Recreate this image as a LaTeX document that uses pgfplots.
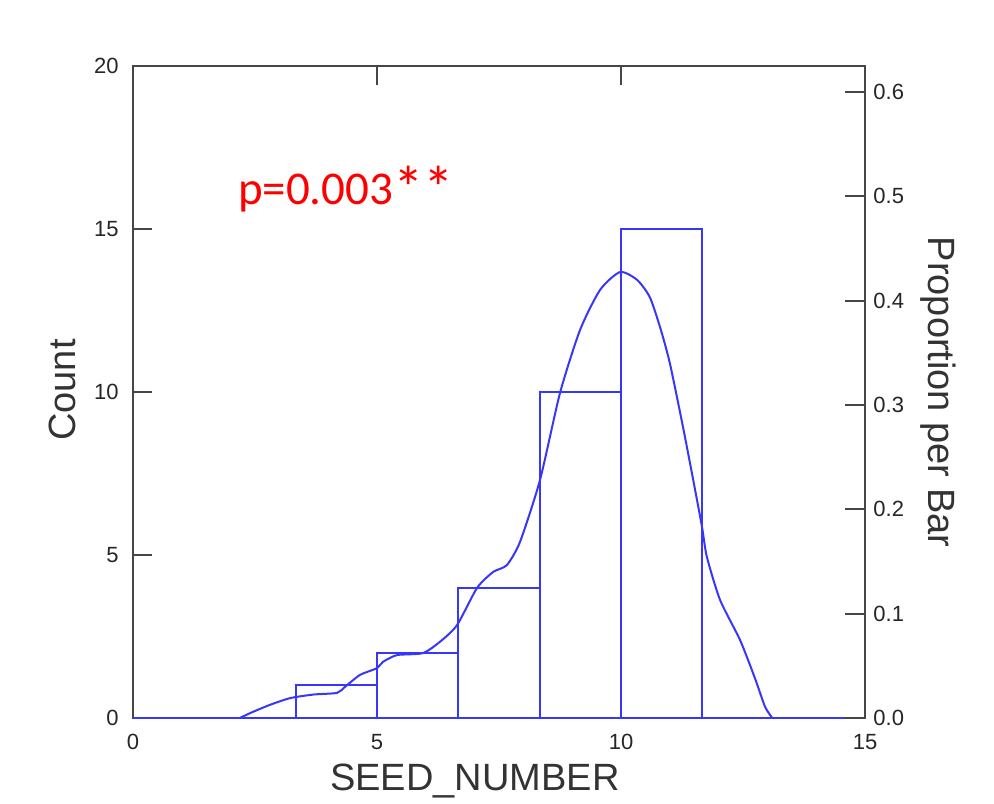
\documentclass[border=0pt]{standalone}
\usepackage{pgfplots}
\pgfplotsset{compat=1.18}
\usepackage{fontspec}
\setmainfont{Liberation Sans}
\newfontfamily\calibri{Carlito}
\definecolor{histblue}{RGB}{55,55,250}
\definecolor{axisgray}{RGB}{70,70,70}

\begin{document}
\begin{tikzpicture}
	% page size fixed to the reference proportions (1px = 0.5pt)
	\useasboundingbox (-66.5pt,-42.5pt) rectangle (430.5pt,359pt);
	\begin{axis}[
		name=main,
		at={(0,0)}, anchor=south west,
		width=366pt, height=326pt,
		scale only axis,
		xmin=0, xmax=15,
		ymin=0, ymax=20,
		xtick={0,5,10,15},
		ytick={0,5,10,15,20},
		ytick pos=left,
		xtick pos=both,
		tick align=inside,
		major tick length=9.5pt,
		axis line style={axisgray, line width=1.25pt},
		every tick/.style={axisgray, line width=1.1pt},
		/pgf/number format/assume math mode=true,
		tick label style={font=\fontsize{11}{12}\selectfont, text=black!85},
		yticklabel style={anchor=east, inner sep=0pt, xshift=-7pt},
		xticklabel style={anchor=north, inner sep=0pt, yshift=-8pt},
		xlabel={SEED\_NUMBER},
		ylabel={Count},
		label style={font=\fontsize{19}{21}\selectfont, text=black!80},
		xlabel style={at={(axis description cs:0.467,-0.0966)}, anchor=center},
		ylabel style={at={(axis description cs:-0.097,0.503)}, anchor=center, rotate=0},
		clip=false,
		]
		% histogram
		\addplot[ybar interval, draw=histblue, line width=1pt, fill=none] coordinates {
			(3.3333,1) (5,2) (6.6667,4) (8.3333,10) (10,15) (11.6667,15)
		};
		% baseline
		\addplot[histblue, line width=1pt] coordinates {(0,0) (15,0)};
		% smoothed density
		\addplot[histblue, line width=1pt, smooth, tension=0.4] coordinates {
			(2.19,0) (2.40,0.15) (2.80,0.40) (3.22,0.61) (3.70,0.72) (4.18,0.77)
			(4.34,0.95) (4.65,1.32) (5.00,1.53) (5.12,1.72) (5.41,1.93)
			(5.94,1.99) (6.30,2.35) (6.64,2.85) (7.05,3.99) (7.38,4.48)
			(7.66,4.69) (7.93,5.40) (8.34,7.30) (8.75,9.97) (9.16,11.90)
			(9.57,13.13) (9.98,13.68) (10.33,13.44) (10.59,12.91) (10.80,11.99)
			(11.00,10.89) (11.27,8.93) (11.48,7.30) (11.66,5.86) (11.76,4.94)
			(12.03,3.62) (12.44,2.39) (12.75,1.20) (12.95,0.35) (13.10,0)
		};
		\node[anchor=base west, inner sep=0pt, text=red,
			font=\calibri\fontsize{23.5}{26}\selectfont]
			at (rel axis cs:0.143,0.787) {p=0.003\raisebox{-2.5pt}{\scalebox{1.3}{**}}};
	\end{axis}
	\begin{axis}[
		at={(0,0)}, anchor=south west,
		width=366pt, height=326pt,
		scale only axis,
		xmin=0, xmax=15,
		ymin=0, ymax=0.625,
		axis x line=none,
		axis y line*=right,
		ytick={0,0.1,0.2,0.3,0.4,0.5,0.6},
		tick align=inside,
		major tick length=10pt,
		axis line style={axisgray, line width=1.25pt, -},
		every tick/.style={axisgray, line width=1.1pt},
		/pgf/number format/assume math mode=true,
		/pgf/number format/.cd, fixed, fixed zerofill, precision=1, /pgfplots/.cd,
		tick label style={font=\fontsize{11}{12}\selectfont, text=black!85},
		yticklabel style={anchor=west, inner sep=0pt, xshift=4pt},
		ylabel={Proportion per Bar},
		ylabel style={at={(axis description cs:1.0997,0.50)}, anchor=center, rotate=-180,
			font=\fontsize{19}{21}\selectfont, text=black!80},
		]
		\addplot[draw=none] coordinates {(0,0) (15,0)};
	\end{axis}
\end{tikzpicture}
\end{document}
